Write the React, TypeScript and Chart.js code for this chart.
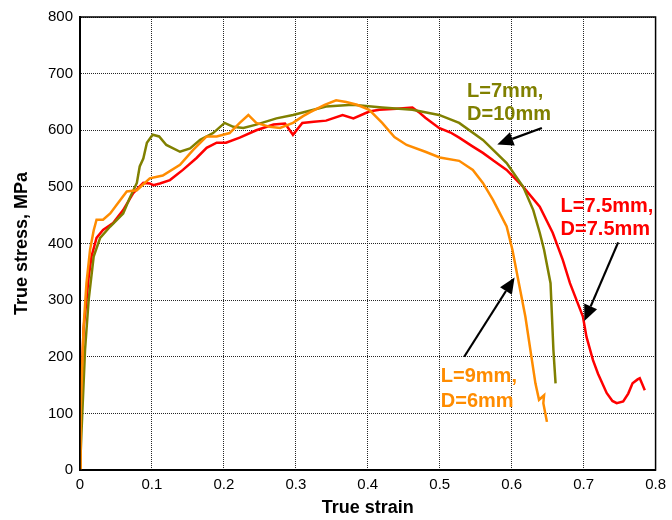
import React, { useEffect, useRef } from "react";
import { Chart, registerables } from "chart.js";

Chart.register(...registerables);

// Red: L=7.5mm, D=7.5mm
const redStrain = [0, 0.002, 0.005, 0.009, 0.012, 0.016, 0.023, 0.032, 0.046, 0.06, 0.074, 0.088, 0.097, 0.102, 0.111, 0.125, 0.143, 0.162, 0.176, 0.19, 0.203, 0.222, 0.245, 0.269, 0.285, 0.296, 0.309, 0.325, 0.342, 0.365, 0.38, 0.402, 0.416, 0.44, 0.462, 0.471, 0.48, 0.499, 0.515, 0.527, 0.545, 0.56, 0.575, 0.593, 0.616, 0.639, 0.657, 0.671, 0.681, 0.699, 0.704, 0.713, 0.72, 0.732, 0.74, 0.746, 0.755, 0.762, 0.768, 0.775, 0.778, 0.782, 0.785];
const redStress = [0, 150, 250, 300, 340, 377, 410, 424, 436, 459, 489, 507, 506, 503, 506, 512, 530, 551, 569, 578, 578, 587, 600, 610, 612, 592, 613, 615, 617, 627, 621, 633, 636, 638, 640, 632, 622, 604, 596, 587, 572, 560, 546, 530, 500, 465, 419, 371, 330, 271, 235, 194, 170, 136, 122, 118, 121, 135, 153, 160, 162, 150, 141];

// Olive: L=7mm, D=10mm
const oliveStrain = [0, 0.002, 0.007, 0.012, 0.019, 0.028, 0.042, 0.06, 0.069, 0.079, 0.083, 0.088, 0.093, 0.101, 0.11, 0.12, 0.139, 0.153, 0.167, 0.185, 0.201, 0.213, 0.227, 0.245, 0.273, 0.296, 0.342, 0.379, 0.42, 0.462, 0.499, 0.527, 0.56, 0.593, 0.616, 0.63, 0.639, 0.645, 0.654, 0.656, 0.658, 0.661];
const oliveStress = [0, 65, 212, 300, 377, 410, 430, 453, 480, 507, 536, 550, 578, 592, 589, 574, 562, 568, 583, 595, 613, 606, 604, 610, 621, 627, 642, 645, 640, 636, 627, 613, 583, 542, 500, 459, 419, 389, 330, 271, 212, 153];

// Orange: L=9mm, D=6mm
const orangeStrain = [0, 0.001, 0.005, 0.009, 0.014, 0.019, 0.023, 0.032, 0.042, 0.056, 0.065, 0.079, 0.097, 0.115, 0.139, 0.157, 0.176, 0.19, 0.208, 0.222, 0.234, 0.245, 0.264, 0.278, 0.296, 0.31, 0.32, 0.34, 0.356, 0.37, 0.385, 0.402, 0.42, 0.437, 0.454, 0.48, 0.5, 0.527, 0.546, 0.56, 0.574, 0.593, 0.601, 0.61, 0.619, 0.626, 0.633, 0.638, 0.645, 0.644, 0.649];
const orangeStress = [0, 106, 253, 330, 389, 423, 442, 442, 453, 477, 492, 494, 515, 520, 539, 565, 589, 589, 595, 613, 627, 613, 606, 604, 613, 625, 632, 645, 653, 650, 645, 636, 613, 588, 574, 562, 552, 546, 530, 507, 477, 430, 389, 330, 271, 212, 153, 124, 132, 118, 85];

const xTicks = [0, 0.1, 0.2, 0.3, 0.4, 0.5, 0.6, 0.7, 0.8];
const yTicks = [0, 100, 200, 300, 400, 500, 600, 700, 800];

const RED = "#ff0000";
const OLIVE = "#808000";
const ORANGE = "#ff8c00";
const FONT = "'Liberation Sans', Arial, sans-serif";

// annotation anchors in data units
const labels = [
  { lines: ["L=7mm,", "D=10mm"], x: 0.538, y: [658, 618], color: OLIVE },
  { lines: ["L=7.5mm,", "D=7.5mm"], x: 0.668, y: [456, 415], color: RED },
  { lines: ["L=9mm,", "D=6mm"], x: 0.5015, y: [156, 112], color: ORANGE },
];
const arrows = [
  { from: [0.642, 604], to: [0.58, 575] },
  { from: [0.748, 402], to: [0.701, 263] },
  { from: [0.534, 200], to: [0.604, 340] },
];

const toPts = (xs: number[], ys: number[]) => xs.map((x, i) => ({ x, y: ys[i] }));

const annotPlugin = {
  id: "annot",
  afterDatasetsDraw(chart: any) {
    const { ctx, chartArea, scales } = chart;
    const sx = scales.x, sy = scales.y;
    ctx.save();
    // frame
    ctx.strokeStyle = "#000";
    ctx.lineWidth = 1.5;
    ctx.strokeRect(chartArea.left, chartArea.top, chartArea.right - chartArea.left, chartArea.bottom - chartArea.top);
    // labels
    ctx.font = "bold 20px " + FONT;
    ctx.textBaseline = "alphabetic";
    ctx.textAlign = "left";
    for (const l of labels) {
      ctx.fillStyle = l.color;
      l.lines.forEach((t, i) => {
        ctx.fillText(t, sx.getPixelForValue(l.x), sy.getPixelForValue(l.y[i]));
      });
    }
    // arrows
    ctx.strokeStyle = "#000";
    ctx.fillStyle = "#000";
    for (const a of arrows) {
      const x1 = sx.getPixelForValue(a.from[0]), y1 = sy.getPixelForValue(a.from[1]);
      const x2 = sx.getPixelForValue(a.to[0]), y2 = sy.getPixelForValue(a.to[1]);
      const ang = Math.atan2(y2 - y1, x2 - x1);
      const hl = 16, hw = 7;
      const bx = x2 - hl * Math.cos(ang), by = y2 - hl * Math.sin(ang);
      ctx.lineWidth = 2.2;
      ctx.beginPath();
      ctx.moveTo(x1, y1);
      ctx.lineTo(bx, by);
      ctx.stroke();
      ctx.beginPath();
      ctx.moveTo(x2, y2);
      ctx.lineTo(bx + hw * Math.sin(ang), by - hw * Math.cos(ang));
      ctx.lineTo(bx - hw * Math.sin(ang), by + hw * Math.cos(ang));
      ctx.closePath();
      ctx.fill();
    }
    ctx.restore();
  },
};

export default function App() {
  const ref = useRef<HTMLCanvasElement>(null);
  useEffect(() => {
    document.body.style.margin = "0";
    const ds = (label: string, xs: number[], ys: number[], color: string) => ({
      label,
      data: toPts(xs, ys),
      borderColor: color,
      backgroundColor: color,
      borderWidth: 2.5,
      pointRadius: 0,
      showLine: true,
      tension: 0,
      fill: false,
    });
    const chart = new Chart(ref.current!, {
      type: "scatter",
      data: {
        datasets: [
          ds("L=9mm, D=6mm", orangeStrain, orangeStress, ORANGE),
          ds("L=7mm, D=10mm", oliveStrain, oliveStress, OLIVE),
          ds("L=7.5mm, D=7.5mm", redStrain, redStress, RED),
        ],
      },
      options: {
        animation: false,
        responsive: false,
        maintainAspectRatio: false,
        layout: { padding: { top: 17, right: 15, left: 0, bottom: 0 } },
        plugins: { legend: { display: false }, tooltip: { enabled: false } },
        scales: {
          x: {
            type: "linear",
            min: 0,
            max: 0.8,
            afterFit: (s: any) => { s.height = 50; },
            afterBuildTicks: (s: any) => { s.ticks = xTicks.map((v) => ({ value: v })); },
            ticks: {
              color: "#000",
              font: { family: FONT, size: 15 },
              padding: 6,
              maxRotation: 0,
              callback: (v: any) => String(v),
            },
            grid: { color: "rgba(0,0,0,0.85)", lineWidth: 1, drawTicks: false },
            border: { display: true, color: "#000", width: 2, dash: [1, 1] },
            title: {
              display: true,
              text: "True strain",
              color: "#000",
              font: { family: FONT, size: 18, weight: "bold" },
              padding: { top: 0, bottom: 1 },
            },
          },
          y: {
            type: "linear",
            min: 0,
            max: 800,
            afterFit: (s: any) => { s.width = 80; },
            afterBuildTicks: (s: any) => { s.ticks = yTicks.map((v) => ({ value: v })); },
            ticks: {
              color: "#000",
              font: { family: FONT, size: 15 },
              padding: 7,
              callback: (v: any) => String(v),
            },
            grid: { color: "rgba(0,0,0,0.85)", lineWidth: 1, drawTicks: false },
            border: { display: true, color: "#000", width: 2, dash: [1, 1] },
            title: {
              display: true,
              text: "True stress, MPa",
              color: "#000",
              font: { family: FONT, size: 18, weight: "bold" },
              padding: { top: 11, bottom: 0 },
            },
          },
        },
      },
      plugins: [annotPlugin],
    } as any);
    return () => chart.destroy();
  }, []);
  return (
    <div style={{ position: "absolute", left: 0, top: 0, width: 672, height: 520, background: "#fff" }}>
      <canvas ref={ref} width={672} height={520} style={{ width: 672, height: 520 }} />
    </div>
  );
}
